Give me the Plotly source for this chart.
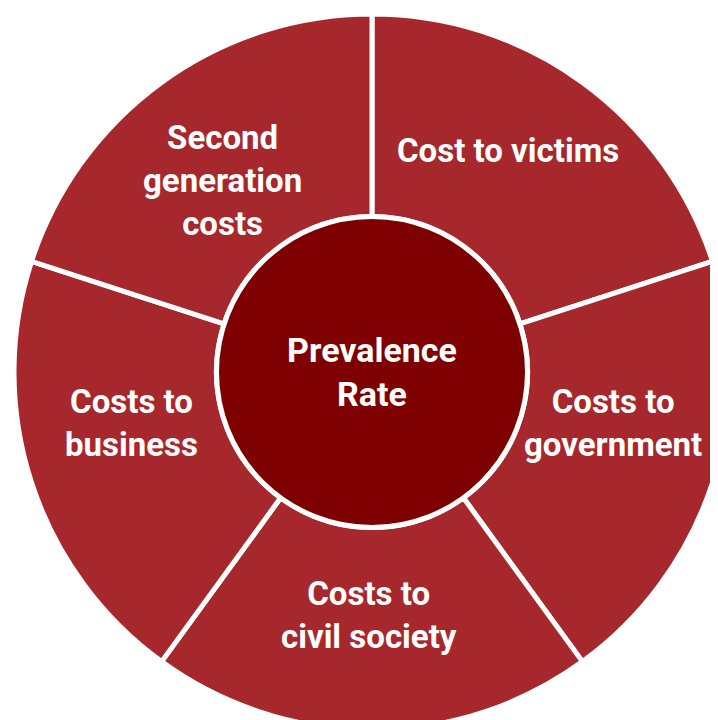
import plotly.graph_objects as go

# Segmentos del anillo exterior (en sentido horario desde las 12)
segments = [
    "Cost to victims",
    "Costs to<br>government",
    "Costs to<br>civil society",
    "Costs to<br>business",
    "Second<br>generation<br>costs",
]
segment_values = [1, 1, 1, 1, 1]

center_label = ["Prevalence<br>Rate"]
center_value = [1]

# Tamaño del lienzo (mayor que la ventana: el círculo queda recortado a la derecha/abajo)
W, H = 740, 740
CX, CY = 364, 364      # centro del círculo en px de la figura
R_OUT, R_IN = 358, 155.5

# Posición (px de la figura) de cada etiqueta del anillo
label_pos = [(500, 142), (605, 415), (361, 607), (123, 415), (214, 172)]

RING = "#A6282C"
CORE = "#7F0000"
FONT = "Roboto, Liberation Sans, Arial, sans-serif"
SIZE = 33


def dom(cx, cy, r):
    return dict(x=[(cx - r) / W, (cx + r) / W], y=[1 - (cy + r) / H, 1 - (cy - r) / H])


fig = go.Figure()

# Anillo exterior con los cinco costes
fig.add_trace(go.Pie(
    labels=segments,
    values=segment_values,
    textinfo="none",
    direction="clockwise",
    rotation=0,
    sort=False,
    hole=R_IN / R_OUT,
    marker=dict(colors=[RING] * len(segments), line=dict(color="white", width=5)),
    hoverinfo="label",
    showlegend=False,
    domain=dom(CX, CY, R_OUT),
))

# Círculo central
fig.add_trace(go.Pie(
    labels=center_label,
    values=center_value,
    text=center_label,
    textinfo="text",
    textposition="inside",
    insidetextorientation="horizontal",
    sort=False,
    marker=dict(colors=[CORE], line=dict(color="white", width=5)),
    textfont=dict(family=FONT, size=SIZE + 1, color="white", weight="bold"),
    hoverinfo="label",
    showlegend=False,
    domain=dom(CX, CY, R_IN),
))

# Etiquetas de los segmentos
for name, (px, py) in zip(segments, label_pos):
    fig.add_annotation(
        text=name,
        x=px / W,
        y=1 - py / H,
        xref="paper",
        yref="paper",
        xanchor="center",
        yanchor="middle",
        align="center",
        showarrow=False,
        font=dict(family=FONT, size=SIZE, color="white", weight="bold"),
    )

fig.update_layout(
    width=W,
    height=H,
    margin=dict(l=0, r=0, t=0, b=0),
    paper_bgcolor="white",
    plot_bgcolor="white",
)

fig.write_html("out.html")
